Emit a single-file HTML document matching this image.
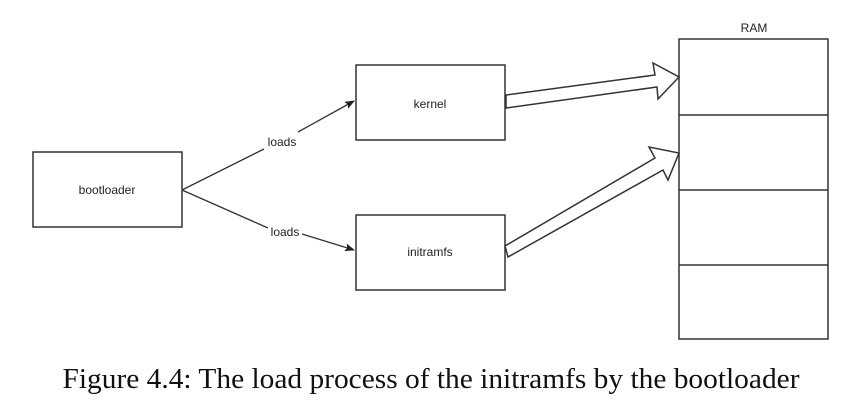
<html><body style="margin:0;width:863px;height:405px;background:#fff;overflow:hidden">
<svg width="863" height="405" style="position:absolute;left:0;top:0" font-family="Liberation Sans, sans-serif">
<defs><marker id="a" markerWidth="10" markerHeight="8" refX="9" refY="4" orient="auto" markerUnits="userSpaceOnUse"><path d="M0,0 L10,4 L0,8 L2,4z" fill="#222"/></marker></defs>
<g fill="#fff" stroke="#333" stroke-width="1.5">
<rect x="33" y="152" width="149" height="75"/>
<rect x="356" y="65" width="149" height="75"/>
<rect x="356" y="215" width="149" height="75"/>
<rect x="679" y="39" width="149" height="300"/>
<line x1="679" y1="115" x2="828" y2="115"/>
<line x1="679" y1="190" x2="828" y2="190"/>
<line x1="679" y1="265" x2="828" y2="265"/>
<path d="M506,95 L655,75 L653,63 L679,77 L658,99 L657,87 L506,108 Z"/>
<path d="M505,246 L655,158 L649,147 L679,153 L668,180 L663,170 L508,257 Z"/>
</g>
<g stroke="#333" stroke-width="1.3" fill="none">
<path d="M182,190 L264,149 M298,132 L354,101" marker-end="url(#a)"/>
<path d="M182,190 L268,228 M302,234 L354,250" marker-end="url(#a)"/>
</g>
<g font-size="12" fill="#222" text-anchor="middle">
<text x="107" y="194">bootloader</text>
<text x="430" y="108">kernel</text>
<text x="430" y="256">initramfs</text>
<text x="754" y="32">RAM</text>
<text x="282" y="146">loads</text>
<text x="285" y="236">loads</text>
</g>
<text x="431" y="388" text-anchor="middle" font-family="Liberation Serif, serif" font-size="29" textLength="737" lengthAdjust="spacingAndGlyphs" fill="#111">Figure 4.4: The load process of the initramfs by the bootloader</text>
</svg>
</body></html>
